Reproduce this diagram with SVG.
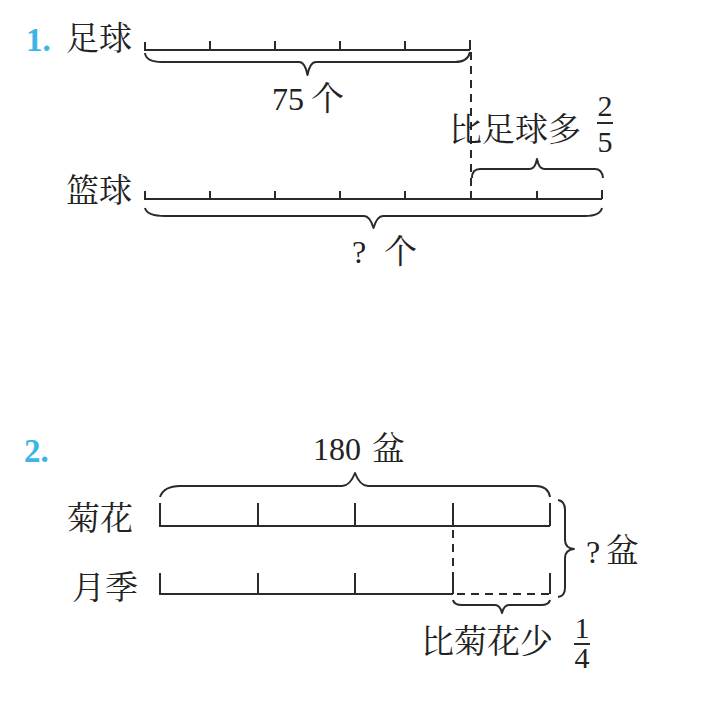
<svg xmlns="http://www.w3.org/2000/svg" width="705" height="714" viewBox="0 0 705 714">
<style>
.ln{stroke:#2a2a2a;stroke-width:2;fill:none;stroke-linecap:butt}
.dash{stroke:#2a2a2a;stroke-width:2;fill:none;stroke-dasharray:8 6}
.br{stroke:#2a2a2a;stroke-width:2;fill:none;stroke-linejoin:round}
.t{font-family:"Noto Serif CJK SC","Noto Sans CJK SC",sans-serif;font-size:33px;fill:#222}
.n{font-family:"Liberation Serif","Times New Roman","DejaVu Serif",serif;font-size:32px;fill:#222}
.f{font-family:"Liberation Serif","Times New Roman","DejaVu Serif",serif;font-size:30px;fill:#222;text-anchor:middle}
.num{font-family:"Liberation Serif","Times New Roman","DejaVu Serif",serif;font-size:33px;font-weight:bold;fill:#3db4e6}
</style>
<rect width="705" height="714" fill="#ffffff"/>

<g id="problem1-label"><text class="num" x="26" y="51">1.</text></g>
<g id="football">
  <text class="t" x="66" y="50">足球</text>
  <path class="ln" d="M145 42 V50 H470 M210 41 V50 M275 41 V50 M340 41 V50 M405 41 V50 M470 40 V50"/>
</g>
<g id="basketball">
  <text class="t" x="66" y="202">篮球</text>
  <path class="ln" d="M145 191 V199 H602 M210 191 V199 M275 191 V199 M340 191 V199 M405 191 V199 M471 191 V199 M537 191 V199 M602 190 V199"/>
</g>
<g id="connectors1">
  <path class="dash" d="M471 52 V190"/>
  <path class="br" d="M145 53 Q146 62 162 62 L299 62 Q305 62 307.5 75 Q310 62 316 62 L455 62 Q468 62 470 52"/>
  <path class="br" d="M472 178 Q472 169 480 169 L530 169 Q535 169 537 159 Q539 169 544 169 L595 169 Q602 169 603 178"/>
  <path class="br" d="M145 208 Q147 216 165 216 L364 216 Q370 216 373.5 228 Q377 216 383 216 L585 216 Q600 216 602 208"/>
</g>
<g id="label-75"><text class="n" x="272" y="110">75</text><text class="t" x="311" y="110">个</text></g>
<g id="label-more">
  <text class="t" x="449" y="141">比足球多</text>
  <text class="f" x="605" y="116">2</text>
  <path class="ln" d="M597 123 H613"/>
  <text class="f" x="605" y="152">5</text>
</g>
<g id="label-q1"><text class="n" x="352" y="263">?</text><text class="t" x="384" y="263">个</text></g>

<g id="problem2-label"><text class="num" x="24" y="462">2.</text></g>
<g id="label-180"><text class="n" x="313" y="460">180</text><text class="t" x="372" y="460">盆</text></g>
<g id="chrysanthemum">
  <text class="t" x="67" y="530">菊花</text>
  <path class="ln" d="M160 503 V526 H550 M258 503 V526 M355 503 V526 M453 503 V526 M550 503 V526"/>
</g>
<g id="rose">
  <text class="t" x="72" y="599">月季</text>
  <path class="ln" d="M160 573 V594 H453 M258 573 V594 M355 573 V594 M453 573 V594 M550 573 V594"/>
</g>
<g id="connectors2">
  <path class="dash" d="M453 530 V594"/>
  <path class="dash" d="M457 594 H550"/>
  <path class="br" d="M160 497 Q164 486 180 486 L342 486 Q350 486 355 473 Q360 486 368 486 L536 486 Q548 486 550 497"/>
  <path class="br" d="M558 500 Q565 501 565 510 L565 540 Q565 548 574 549 Q565 550 565 558 L565 588 Q565 596 558 597"/>
  <path class="br" d="M453 600 Q454 605 462 605 L495 605 Q500 605 502 613 Q504 605 509 605 L541 605 Q549 605 550 600"/>
</g>
<g id="label-q2"><text class="n" x="586" y="563">?</text><text class="t" x="606" y="562">盆</text></g>
<g id="label-less">
  <text class="t" x="421" y="653">比菊花少</text>
  <text class="f" x="582" y="638">1</text>
  <path class="ln" d="M574 644 H590"/>
  <text class="f" x="582" y="668">4</text>
</g>
</svg>
